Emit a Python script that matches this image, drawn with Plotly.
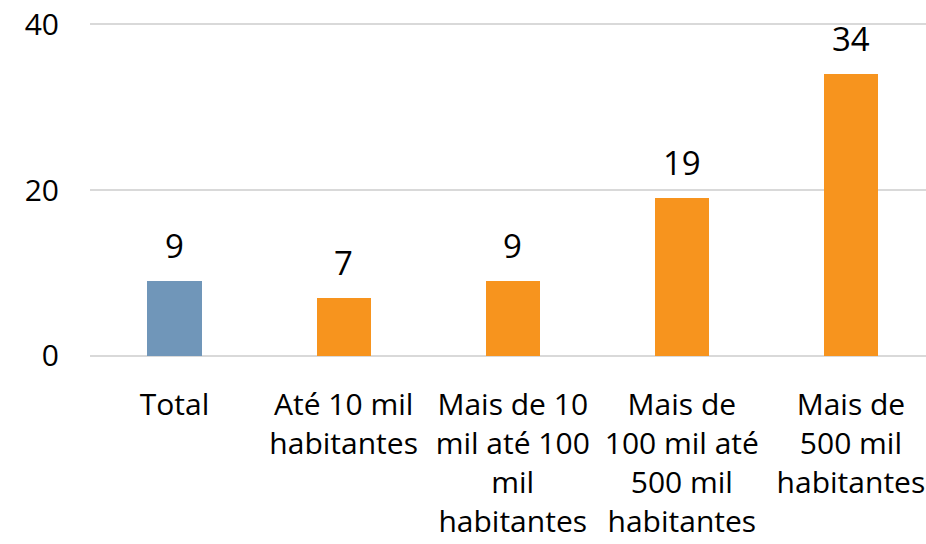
import plotly.graph_objects as go

categories = ["Total", "Até 10 mil<br>habitantes", "Mais de 10<br>mil até 100<br>mil<br>habitantes",
              "Mais de<br>100 mil até<br>500 mil<br>habitantes", "Mais de<br>500 mil<br>habitantes"]
values = [9, 7, 9, 19, 34]
bar_colors = ["#7096B9", "#F7941E", "#F7941E", "#F7941E", "#F7941E"]
y_ticks = [0, 20, 40]

FONT = "Open Sans"

fig = go.Figure()
fig.add_trace(go.Bar(
    x=categories, y=values, marker=dict(color=bar_colors, line=dict(width=0)),
    width=0.32, hoverinfo="skip",
))
for c, v in zip(categories, values):
    fig.add_annotation(x=c, y=v, text=str(v), showarrow=False, yanchor="bottom",
                       yshift=11, font=dict(family=FONT, size=33, color="#000000"))

fig.update_layout(
    width=926, height=544,
    margin=dict(l=90, r=0, t=22, b=186, pad=0),
    plot_bgcolor="white", paper_bgcolor="white",
    showlegend=False,
    font=dict(family=FONT, color="#000000"),
    bargap=0,
)
fig.update_xaxes(range=[-0.5, 4.444], showgrid=False, zeroline=False, showline=False,
                 ticks="", tickfont=dict(size=30, family=FONT), ticklabelstandoff=26)
fig.update_yaxes(range=[-0.3, 40.3], tickvals=y_ticks, showgrid=True, gridcolor="#D9D9D9",
                 gridwidth=2, zeroline=False, showline=False, ticks="",
                 tickfont=dict(size=30, family=FONT), ticklabelstandoff=30)

fig.write_html("out.html", config={"displayModeBar": False},
               post_script="document.body.style.margin='0';")
